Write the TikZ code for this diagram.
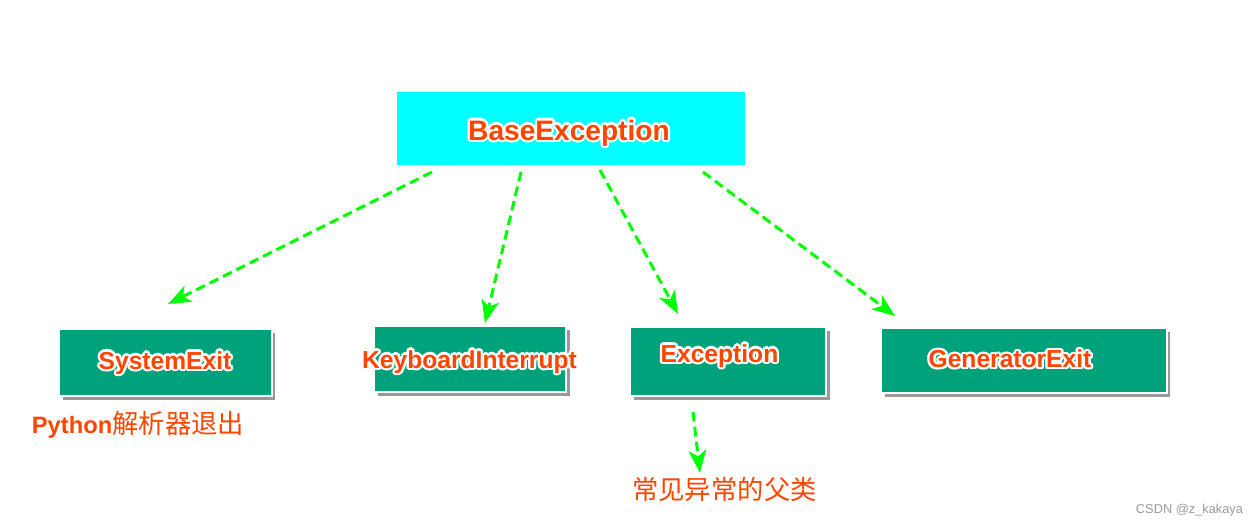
\documentclass[tikz,border=0pt]{standalone}
\usepackage{fontspec}
\setmainfont{Liberation Sans}
\newfontfamily\cjk{Noto Sans CJK SC}
\usepackage{contour}
\contourlength{1.3pt}
\usetikzlibrary{arrows.meta, shadows}
\definecolor{basecyan}{HTML}{00FFFF}
\definecolor{boxgreen}{HTML}{00A27B}
\definecolor{labelred}{HTML}{FF4500}
\definecolor{arrowgreen}{HTML}{00FF00}
\definecolor{markgray}{HTML}{999999}

\tikzset{
  subbox/.style={fill=boxgreen, draw=white, line width=1.1pt,
    drop shadow={shadow xshift=2pt, shadow yshift=-2pt, opacity=0.4, fill=black}},
  lbl/.style={text=labelred, font=\fontsize{14}{16}\selectfont\bfseries},
  note/.style={text=labelred, font=\fontsize{15}{17}\selectfont},
  inherit/.style={draw=arrowgreen, line width=1.7pt, dash pattern=on 5.5pt off 3pt,
    -{Stealth[length=13pt, width=10pt, inset=3.5pt]}}
}

\begin{document}
\begin{tikzpicture}[x=0.02cm, y=-0.02cm]
        \useasboundingbox (0,0) rectangle (1258,526);

        \node[fill=basecyan, minimum width=6.96cm, minimum height=1.46cm] (base) at (571,128.5) {};
        \node[text=labelred, font=\fontsize{16}{18}\selectfont\bfseries] (base-t) at (569,134) {\contour{white}{BaseException}};

        \node[subbox, minimum width=4.26cm, minimum height=1.34cm] (sysexit) at (165.5,362.5) {};
        \node[subbox, minimum width=3.84cm, minimum height=1.32cm] (kbint) at (470,359) {};
        \node[subbox, minimum width=3.92cm, minimum height=1.38cm] (exc) at (728,361.5) {};
        \node[subbox, minimum width=5.72cm, minimum height=1.30cm] (genexit) at (1024,360.5) {};

        \node[lbl] (sysexit-t) at (165,364) {\contour{white}{SystemExit}};
        \node[lbl] (kbint-t) at (469.5,363) {\contour{white}{KeyboardInterrupt}};
        \node[lbl] (exc-t) at (719.5,357) {\contour{white}{Exception}};
        \node[lbl] (genexit-t) at (1010,360) {\contour{white}{GeneratorExit}};

        \node[note] (sysexit-n) at (138,426) {\contour{white}{{\bfseries\fontsize{13.5}{16}\selectfont Python}{\cjk 解析器退出}}};
        \node[note] (exc-n) at (724.5,491) {\contour{white}{\cjk 常见异常的父类}};

        \coordinate (s1) at (432,172);
        \coordinate (e1) at (168,304);
        \coordinate (s2) at (521,172);
        \coordinate (e2) at (485,323);
        \coordinate (s3) at (600,170);
        \coordinate (e3) at (678,314);
        \coordinate (s4) at (703,172);
        \coordinate (e4) at (895,316);
        \coordinate (s5) at (693,412);
        \coordinate (e5) at (700,473);

        \draw[inherit] (s1) -- (e1);
        \draw[inherit] (s2) -- (e2);
        \draw[inherit] (s3) -- (e3);
        \draw[inherit] (s4) -- (e4);
        \draw[inherit] (s5) -- (e5);

        \node[text=markgray, font=\fontsize{7.3}{9}\selectfont] (mark) at (1189.5,510) {CSDN @z\_kakaya};
    \end{tikzpicture}
\end{document}
